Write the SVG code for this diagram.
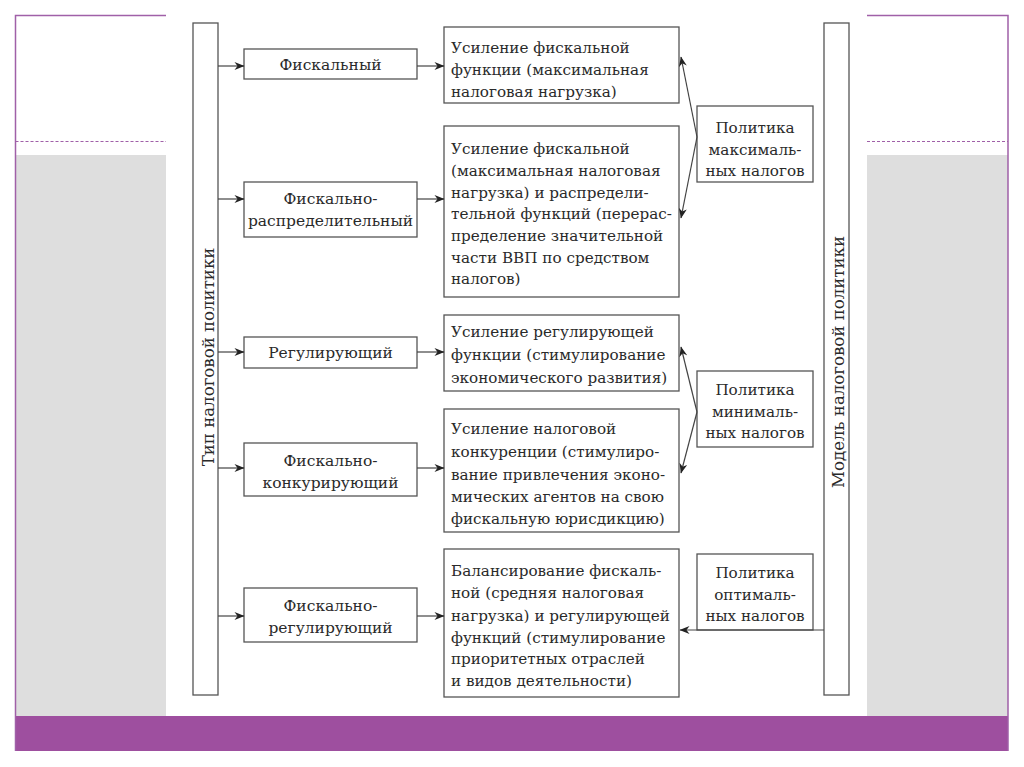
<svg xmlns="http://www.w3.org/2000/svg" width="1024" height="767" viewBox="0 0 1024 767">
<defs>
<style>
.frame{fill:none;stroke:#a060a8;stroke-width:1.5}
.dash{fill:none;stroke:#a060a8;stroke-width:1.2;stroke-dasharray:3 2}
.box{fill:#fff;stroke:#555;stroke-width:1.3}
.t{font-family:'DejaVu Serif',serif;font-size:15.2px;fill:#2a2a2a}
.k{font-size:15.5px}
.v{font-size:16.6px}
.c{text-anchor:middle}
.con{fill:none;stroke:#444;stroke-width:1.2}
</style>
<marker id="ah" viewBox="0 0 10 8" refX="9.5" refY="4" markerWidth="11" markerHeight="8" markerUnits="userSpaceOnUse" orient="auto">
<path d="M0,0 L10,4 L0,8 L3,4 z" fill="#222"/>
</marker>
</defs>
<g id="background">
<rect x="0" y="0" width="1024" height="767" fill="#fff"/>
<rect x="16" y="155" width="150" height="561" fill="#dedede"/>
<rect x="867" y="155" width="141" height="561" fill="#dedede"/>
<rect x="15" y="716" width="993" height="35" fill="#9e4f9f"/>
<path class="frame" d="M15.5,751 V15.5 H166 M867,15.5 H1008 V751"/>
<path class="dash" d="M15.5,141.5 H166 M867,141.5 H1008"/>
</g>
<g id="type-bar">
<rect class="box" x="193" y="23" width="25" height="672"/>
<text class="t v c" transform="translate(214,357) rotate(-90)">Тип налоговой политики</text>
</g>
<g id="model-bar">
<rect class="box" x="824" y="23" width="25" height="672"/>
<text class="t v c" transform="translate(844,362) rotate(-90)">Модель налоговой политики</text>
</g>
<g id="type1">
<rect class="box" x="244" y="49" width="173" height="30"/>
<text class="t k c" x="330.5" y="70">Фискальный</text>
</g>
<g id="type2">
<rect class="box" x="244" y="182" width="173" height="55"/>
<text class="t k c" x="330.5" y="204">Фискально-</text>
<text class="t k c" x="330.5" y="226">распределительный</text>
</g>
<g id="type3">
<rect class="box" x="244" y="337" width="173" height="31"/>
<text class="t k c" x="330.5" y="358">Регулирующий</text>
</g>
<g id="type4">
<rect class="box" x="244" y="443" width="173" height="53"/>
<text class="t k c" x="330.5" y="466">Фискально-</text>
<text class="t k c" x="330.5" y="488">конкурирующий</text>
</g>
<g id="type5">
<rect class="box" x="244" y="588" width="173" height="54"/>
<text class="t k c" x="330.5" y="611">Фискально-</text>
<text class="t k c" x="330.5" y="633">регулирующий</text>
</g>
<g id="desc1">
<rect class="box" x="444" y="27" width="235" height="76"/>
<text class="t" x="451" y="53">Усиление фискальной</text>
<text class="t" x="451" y="75">функции (максимальная</text>
<text class="t" x="451" y="97">налоговая нагрузка)</text>
</g>
<g id="desc2">
<rect class="box" x="444" y="126" width="235" height="171"/>
<text class="t" x="451" y="154">Усиление фискальной</text>
<text class="t" x="451" y="176">(максимальная налоговая</text>
<text class="t" x="451" y="198">нагрузка) и распредели-</text>
<text class="t" x="451" y="219">тельной функций (перерас-</text>
<text class="t" x="451" y="241">пределение значительной</text>
<text class="t" x="451" y="263">части ВВП по средством</text>
<text class="t" x="451" y="284">налогов)</text>
</g>
<g id="desc3">
<rect class="box" x="444" y="315" width="235" height="76"/>
<text class="t" x="451" y="337">Усиление регулирующей</text>
<text class="t" x="451" y="360">функции (стимулирование</text>
<text class="t" x="451" y="383">экономического развития)</text>
</g>
<g id="desc4">
<rect class="box" x="444" y="409" width="235" height="123"/>
<text class="t" x="451" y="434">Усиление налоговой</text>
<text class="t" x="451" y="457">конкуренции (стимулиро-</text>
<text class="t" x="451" y="480">вание привлечения эконо-</text>
<text class="t" x="451" y="502">мических агентов на свою</text>
<text class="t" x="451" y="524">фискальную юрисдикцию)</text>
</g>
<g id="desc5">
<rect class="box" x="444" y="549" width="235" height="148"/>
<text class="t" x="451" y="576">Балансирование фискаль-</text>
<text class="t" x="451" y="598">ной (средняя налоговая</text>
<text class="t" x="451" y="621">нагрузка) и регулирующей</text>
<text class="t" x="451" y="643">функций (стимулирование</text>
<text class="t" x="451" y="664">приоритетных отраслей</text>
<text class="t" x="451" y="686">и видов деятельности)</text>
</g>
<g id="policy-max">
<rect class="box" x="697" y="106" width="116" height="76"/>
<text class="t c" x="755" y="133">Политика</text>
<text class="t c" x="755" y="155">максималь-</text>
<text class="t c" x="755" y="176">ных налогов</text>
</g>
<g id="policy-min">
<rect class="box" x="697" y="371" width="116" height="76"/>
<text class="t c" x="755" y="395">Политика</text>
<text class="t c" x="755" y="417">минималь-</text>
<text class="t c" x="755" y="438">ных налогов</text>
</g>
<g id="policy-opt">
<rect class="box" x="697" y="554" width="116" height="76"/>
<text class="t c" x="755" y="578">Политика</text>
<text class="t c" x="755" y="600">оптималь-</text>
<text class="t c" x="755" y="621">ных налогов</text>
</g>
<g id="connectors">
<line class="con" x1="218" y1="66" x2="244" y2="66" marker-end="url(#ah)"/>
<line class="con" x1="218" y1="199" x2="244" y2="199" marker-end="url(#ah)"/>
<line class="con" x1="218" y1="352" x2="244" y2="352" marker-end="url(#ah)"/>
<line class="con" x1="218" y1="468" x2="244" y2="468" marker-end="url(#ah)"/>
<line class="con" x1="218" y1="616" x2="244" y2="616" marker-end="url(#ah)"/>
<line class="con" x1="417" y1="66" x2="444" y2="66" marker-end="url(#ah)"/>
<line class="con" x1="417" y1="199" x2="444" y2="199" marker-end="url(#ah)"/>
<line class="con" x1="417" y1="352" x2="444" y2="352" marker-end="url(#ah)"/>
<line class="con" x1="417" y1="468" x2="444" y2="468" marker-end="url(#ah)"/>
<line class="con" x1="417" y1="616" x2="444" y2="616" marker-end="url(#ah)"/>
<line class="con" x1="697" y1="137" x2="681" y2="57" marker-end="url(#ah)"/>
<line class="con" x1="697" y1="137" x2="681" y2="218" marker-end="url(#ah)"/>
<line class="con" x1="697" y1="412" x2="681" y2="347" marker-end="url(#ah)"/>
<line class="con" x1="697" y1="412" x2="681" y2="473" marker-end="url(#ah)"/>
<line class="con" x1="824" y1="630" x2="680" y2="630" marker-end="url(#ah)"/>
</g>
</svg>
